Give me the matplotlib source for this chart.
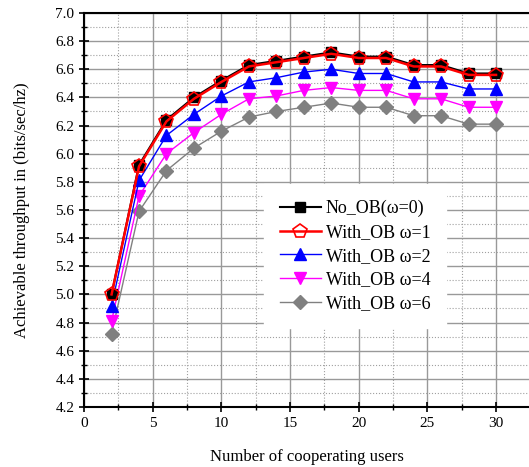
import matplotlib
matplotlib.use("Agg")
import matplotlib.pyplot as plt
from matplotlib.ticker import MultipleLocator

plt.rcParams['font.family'] = ['Liberation Serif', 'DejaVu Serif']
plt.rcParams['mathtext.fontset'] = 'stix'

users = [2, 4, 6, 8, 10, 12, 14, 16, 18, 20, 22, 24, 26, 28, 30]
no_ob = [5.00, 5.92, 6.24, 6.40, 6.52, 6.63, 6.66, 6.69, 6.72, 6.69, 6.69, 6.63, 6.63, 6.57, 6.57]
ob_w1 = [5.00, 5.91, 6.23, 6.39, 6.51, 6.62, 6.65, 6.68, 6.71, 6.68, 6.68, 6.62, 6.62, 6.56, 6.56]
ob_w2 = [4.92, 5.81, 6.13, 6.28, 6.41, 6.51, 6.54, 6.58, 6.60, 6.57, 6.57, 6.51, 6.51, 6.46, 6.46]
ob_w4 = [4.81, 5.70, 6.00, 6.15, 6.28, 6.39, 6.41, 6.45, 6.47, 6.45, 6.45, 6.39, 6.39, 6.33, 6.33]
ob_w6 = [4.72, 5.59, 5.88, 6.04, 6.16, 6.26, 6.30, 6.33, 6.36, 6.33, 6.33, 6.27, 6.27, 6.21, 6.21]
labels = ['No_OB(\u03c9=0)', 'With_OB \u03c9=1', 'With_OB \u03c9=2', 'With_OB \u03c9=4', 'With_OB \u03c9=6']

fig = plt.figure(figsize=(5.29, 4.67), dpi=100)
ax = fig.add_axes([0.159, 0.1285, 0.841, 0.8437])

ax.plot(users, no_ob, color='black', lw=1.5, marker='s', ms=6.5, label=labels[0], zorder=5)
ax.plot(users, ob_w1, color='red', lw=1.8, marker='p', ms=10, mfc='none', mec='red', mew=1.2, label=labels[1], zorder=6)
ax.plot(users, ob_w2, color='blue', lw=1.0, marker='^', ms=9, label=labels[2], zorder=4)
ax.plot(users, ob_w4, color='magenta', lw=1.0, marker='v', ms=9, label=labels[3], zorder=3)
ax.plot(users, ob_w6, color='gray', lw=1.0, marker='D', ms=7, label=labels[4], zorder=2)

ax.set_xlim(0, 32.4)
ax.set_ylim(4.2, 7.0)
ax.xaxis.set_major_locator(MultipleLocator(5))
ax.xaxis.set_minor_locator(MultipleLocator(2.5))
ax.yaxis.set_major_locator(MultipleLocator(0.2))
ax.yaxis.set_minor_locator(MultipleLocator(0.1))
ax.yaxis.set_major_formatter(matplotlib.ticker.FormatStrFormatter('%.1f'))

ax.grid(which='major', color='#999999', lw=1.0, ls='-')
ax.grid(which='minor', color='#a0a0a0', lw=0.8, ls=':')
ax.set_axisbelow(True)

ax.spines['right'].set_visible(False)
for s in ['left', 'bottom', 'top']:
    ax.spines[s].set_linewidth(1.5)

ax.tick_params(which='major', direction='inout', length=7, width=1.2, labelsize=11)
ax.tick_params(which='minor', direction='inout', length=4, width=1.0)
ax.tick_params(top=False, right=False, which='both')

ax.set_xlabel('Number of cooperating users', fontsize=12, labelpad=14)
ax.set_ylabel('Achievable throughput in (bits/sec/hz)', fontsize=12, labelpad=18)

leg = ax.legend(loc='upper left', bbox_to_anchor=(0.405, 0.565), fontsize=13, frameon=True,
                fancybox=False, edgecolor='white', framealpha=1.0, handlelength=2.3,
                labelspacing=0.38, borderpad=0.85, handletextpad=0.25, borderaxespad=0)

fig.savefig('out.png', dpi=100)
